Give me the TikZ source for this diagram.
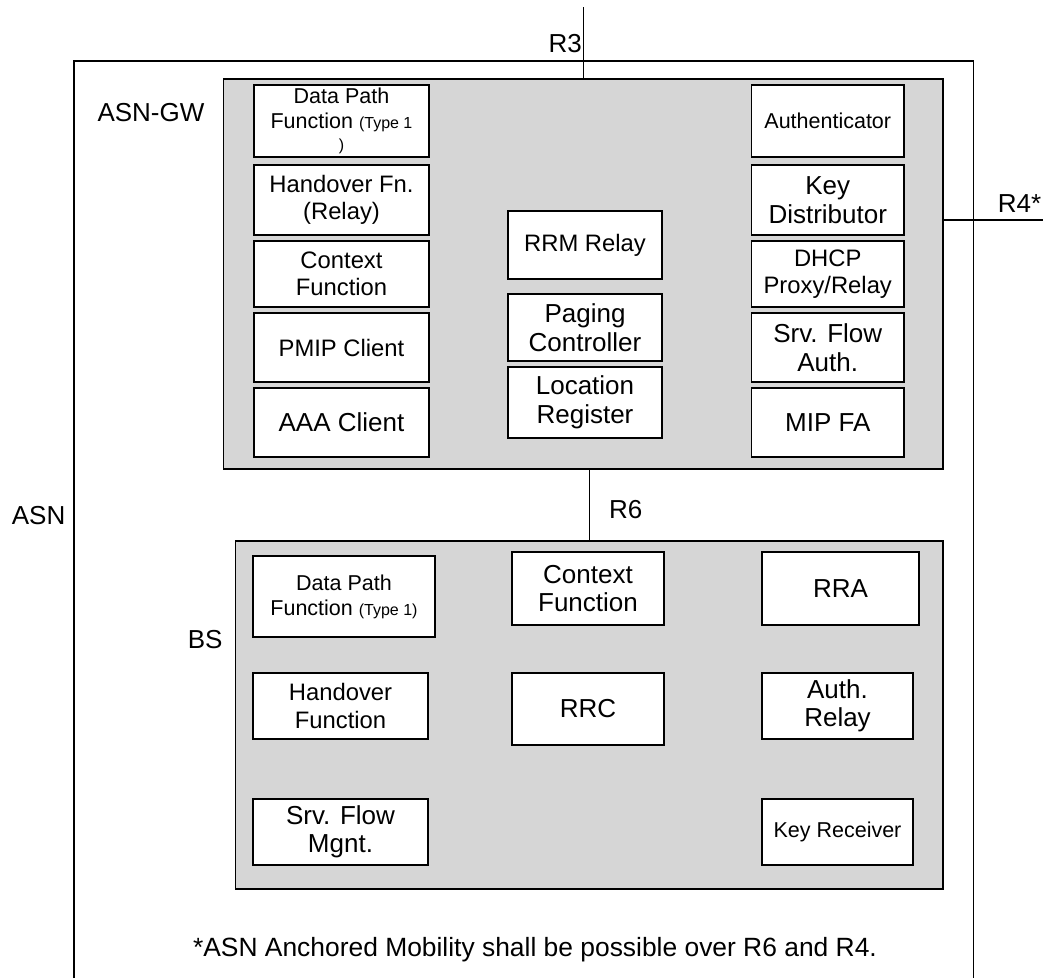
\documentclass[tikz,border=0pt]{standalone}
\usepackage{fontspec}
\setmainfont{Liberation Sans}
\definecolor{boxgray}{RGB}{214,214,214}
\tikzset{
  fbox/.style={draw, fill=white, line width=1.6, inner sep=0pt, align=center},
  gbox/.style={draw, fill=boxgray, line width=1.6, inner sep=0pt},
  conn/.style={line width=1.6},
  fL/.style={font=\fontsize{26}{28.5}\selectfont},
  fM/.style={font=\fontsize{23.8}{27.5}\selectfont},
  fS/.style={font=\fontsize{21.5}{25}\selectfont},
  lbl/.style={font=\fontsize{26}{28.5}\selectfont, inner sep=0pt},
}
\newcommand\fb[7]{\node[fbox, #6, minimum width={#4-#2}, minimum height={#5-#3}] (#1) at ({(#2+#4)/2},{(#3+#5)/2}) {#7};}
\newcommand\gb[5]{\node[gbox, minimum width={#4-#2}, minimum height={#5-#3}] (#1) at ({(#2+#4)/2},{(#3+#5)/2}) {};}
\newcommand\tinyfs{\fontsize{16}{18}\selectfont}
\begin{document}
\begin{tikzpicture}[x=1pt,y=-1pt]
\useasboundingbox (0,0) rectangle (1046,978);
% outer ASN box (open at bottom)
\coordinate (asnbl) at (74,978);
\coordinate (asnbr) at (973.5,978);
\draw[conn] (asnbl) -- (74,61) -- (973.5,61) -- (asnbr);
\node[lbl, anchor=west] (asnlbl) at (11.7,516) {ASN};
% ASN-GW
\gb{gw}{223.3}{79}{943}{469}
\node[lbl, anchor=west] (gwlbl) at (97.3,113) {ASN-GW};
\fb{gdp}{254}{85}{429}{157}{fS}{Data Path\\Function {\tinyfs(Type 1}\\[-3pt]{\tinyfs )}}
\fb{gho}{254}{165}{429}{235}{fM}{Handover Fn.\\(Relay)}
\fb{gcf}{254}{241}{429}{307}{fM}{Context\\Function}
\fb{gpmip}{254}{313}{429}{382}{fM}{PMIP Client}
\fb{gaaa}{254}{388}{429}{457}{fL}{AAA Client}
\fb{grrm}{508}{211}{662}{279}{fM}{RRM Relay}
\fb{gpag}{508}{294}{662}{361}{fL}{Paging\\Controller}
\fb{gloc}{508}{367}{662}{438}{fL}{Location\\Register}
\fb{gauth}{751.5}{85}{904}{157}{fS}{Authenticator}
\fb{gkd}{751.5}{165}{904}{235}{fL}{Key\\Distributor}
\fb{gdhcp}{751.5}{241}{904}{307}{fM}{DHCP\\Proxy/Relay}
\fb{gsfa}{751.5}{313}{904}{382}{fL}{Srv. Flow\\Auth.}
\fb{gmip}{751.5}{388}{904}{457}{fL}{MIP FA}
% BS
\gb{bs}{235.5}{541}{943}{889}
\node[lbl, anchor=east] (bslbl) at (222.7,639.3) {BS};
\fb{bdp}{253}{556}{435}{637}{fS}{Data Path\\Function {\tinyfs(Type 1)}}
\fb{bcf}{512}{552}{664}{625}{fL}{Context\\Function}
\fb{brra}{762}{552}{919}{625}{fL}{RRA}
\fb{bho}{253}{673}{428}{739}{fM}{Handover\\Function}
\fb{brrc}{512}{673}{664}{745}{fL}{RRC}
\fb{bar}{762}{673}{913}{739}{fL}{Auth.\\Relay}
\fb{bsfm}{253}{799}{428}{865}{fL}{Srv. Flow\\Mgnt.}
\fb{bkr}{762}{799}{913}{865}{fS}{Key Receiver}
% reference points
\coordinate (r3top) at (583.6,7);
\coordinate (r6x) at (589.3,500);
\coordinate (r4end) at (1043.3,220);
\draw[conn] (r3top) -- (r3top |- gw.north);
\node[lbl, anchor=east] (r3lbl) at (582,43.3) {R3};
\draw[conn] (gw.east |- r4end) -- (r4end);
\node[lbl, anchor=base west] (r4lbl) at (997.7,212.5) {R4*};
\draw[conn] (gw.south -| r6x) -- (bs.north -| r6x);
\node[lbl, anchor=west] (r6lbl) at (609,510) {R6};
\node[lbl, font=\fontsize{26.4}{29}\selectfont] (note) at (535,950) {*ASN Anchored Mobility shall be possible over R6 and R4.};
\end{tikzpicture}
\end{document}
